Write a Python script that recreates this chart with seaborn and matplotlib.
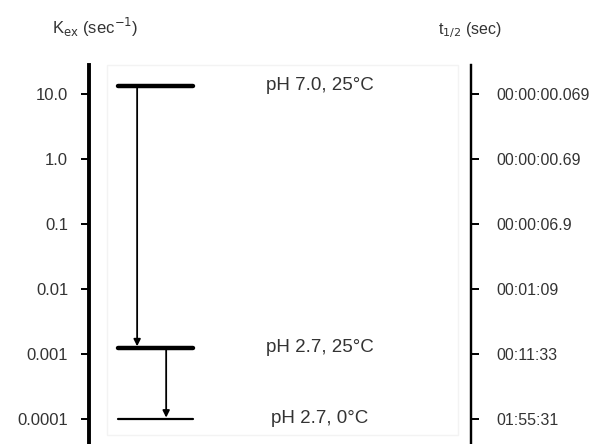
import matplotlib
matplotlib.use("Agg")
import matplotlib.pyplot as plt
import seaborn as sns
import pandas as pd
from matplotlib.patches import Rectangle

# ---- data ----
conditions = ["pH 7.0, 25°C", "pH 2.7, 25°C", "pH 2.7, 0°C"]
k_ex = [13.5, 0.00125, 0.0001]
left_ticks = [10.0, 1.0, 0.1, 0.01, 0.001, 0.0001]
left_labels = ["10.0", "1.0", "0.1", "0.01", "0.001", "0.0001"]
right_labels = ["00:00:00.069", "00:00:00.69", "00:00:06.9", "00:01:09", "00:11:33", "01:55:31"]

sns.set_theme(style="white")
plt.rcParams["font.family"] = ["Liberation Sans", "DejaVu Sans"]

fig = plt.figure(figsize=(5.92, 4.44), dpi=100)
ax = fig.add_axes([89 / 592, 0.0, (471 - 89) / 592, 1 - 65 / 444])

# layout (axes-fraction x positions)
bar_x0, bar_x1 = 0.076, 0.272
arrow_x = [0.126, 0.202]
label_x = 0.605
bar_widths = [3.2, 3.2, 1.6]

rows = []
for c, k in zip(conditions, k_ex):
    rows.append({"cond": c, "x": bar_x0, "k": k})
    rows.append({"cond": c, "x": bar_x1, "k": k})
df = pd.DataFrame(rows)

for c, lw in zip(conditions, bar_widths):
    sub = df[df["cond"] == c]
    sns.lineplot(data=sub, x="x", y="k", color="black", linewidth=lw,
                 estimator=None, ax=ax, legend=False)

ax.set_yscale("log")
ax.set_xlim(0, 1)
ax.set_ylim(10 ** -4.385, 10 ** 1.446)

# arrows between states
for i in range(len(k_ex) - 1):
    ax.annotate("", xy=(arrow_x[i], k_ex[i + 1]), xytext=(arrow_x[i], k_ex[i]),
                arrowprops=dict(arrowstyle="-|>", color="black", lw=1.3,
                                mutation_scale=10, shrinkA=0, shrinkB=1))

for c, k in zip(conditions, k_ex):
    ax.text(label_x, k, c, ha="center", va="center", fontsize=13.5, color="#333333")

# light frame
frame = Rectangle((107 / 592, 9 / 444), (458 - 107) / 592, (379 - 9) / 444,
                  transform=fig.transFigure, fill=False, ec="#f3f3f3", lw=1.0, zorder=0)
fig.patches.append(frame)

# axes styling
for s in ["top", "bottom"]:
    ax.spines[s].set_visible(False)
ax.spines["left"].set_linewidth(2.8)
ax.spines["left"].set_color("black")
ax.spines["right"].set_linewidth(1.6)
ax.spines["right"].set_color("black")
ax.set_xticks([])
ax.set_xlabel("")
ax.set_ylabel("")
ax.set_yticks(left_ticks)
ax.set_yticklabels(left_labels)
ax.yaxis.set_minor_locator(matplotlib.ticker.NullLocator())
ax.tick_params(axis="y", which="major", left=True, length=6, width=1.4,
               direction="out", pad=9, labelsize=12, colors="black", labelcolor="#333333")

ax2 = ax.twinx()
ax2.set_yscale("log")
ax2.set_ylim(ax.get_ylim())
ax2.set_yticks(left_ticks)
ax2.set_yticklabels(right_labels)
ax2.yaxis.set_minor_locator(matplotlib.ticker.NullLocator())
for s in ["top", "bottom", "left"]:
    ax2.spines[s].set_visible(False)
ax2.spines["right"].set_linewidth(1.6)
ax2.spines["right"].set_color("black")
ax2.tick_params(axis="y", which="major", right=True, length=6, width=1.4,
                direction="out", pad=12, labelsize=11.5, colors="black", labelcolor="#333333")

fig.text(95 / 592, 1 - 27 / 444, r"K$_{\mathrm{ex}}$ (sec$^{-1}$)", ha="center", va="center",
         fontsize=12, color="#333333")
fig.text(470 / 592, 1 - 30 / 444, r"t$_{1/2}$ (sec)", ha="center", va="center",
         fontsize=11.5, color="#333333")

fig.savefig("out.png", dpi=100)
